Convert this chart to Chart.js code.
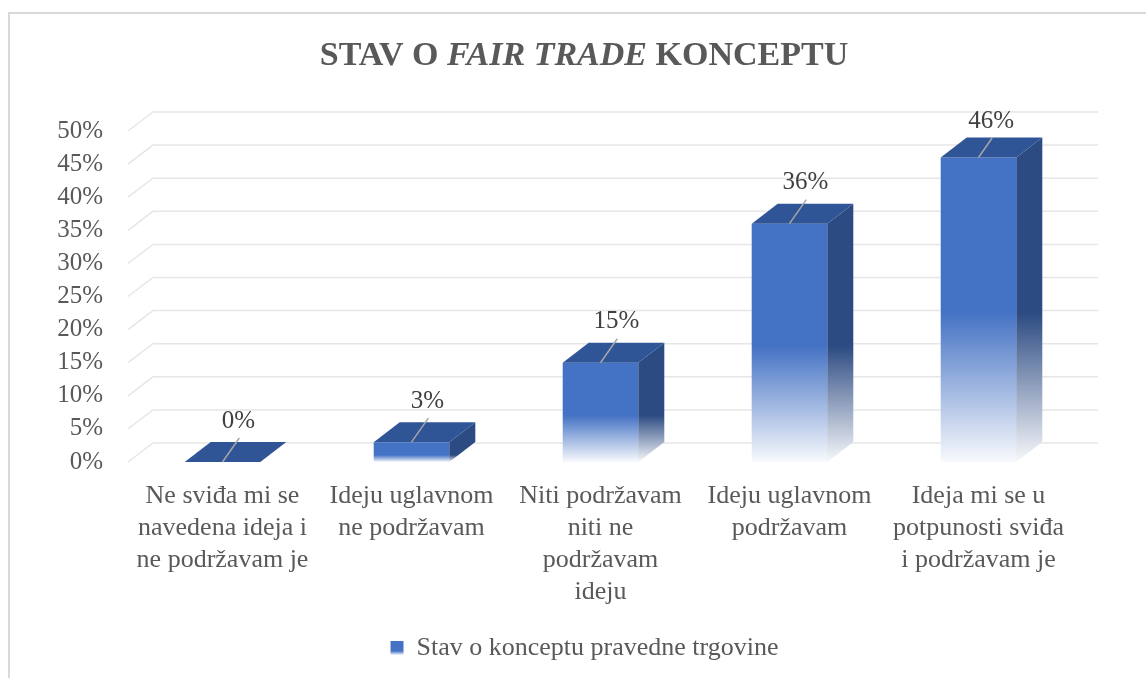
<!DOCTYPE html>
<html>
<head>
<meta charset="utf-8">
<script src="https://cdn.jsdelivr.net/npm/chart.js@4.4.0/dist/chart.umd.min.js"></script>
<style>
  body { margin: 0; background: #fff; }
  #wrap { width: 1146px; height: 678px; position: relative; }
</style>
</head>
<body>
<div id="wrap"><canvas id="myChart"></canvas></div>
<script>
// data
const categories = [
    ['Ne sviđa mi se', 'navedena ideja i', 'ne podržavam je'],
    ['Ideju uglavnom', 'ne podržavam'],
    ['Niti podržavam', 'niti ne', 'podržavam', 'ideju'],
    ['Ideju uglavnom', 'podržavam'],
    ['Ideja mi se u', 'potpunosti sviđa', 'i podržavam je']
];
const values = [0, 3, 15, 36, 46];
const seriesName = 'Stav o konceptu pravedne trgovine';
const titleParts = [['STAV O ', false], ['FAIR TRADE', true], [' KONCEPTU', false]];

const BLUE = '#4472C4';
const SIDE = '#2C4B82';
const TOP = '#2F5597';
const FONT = '"Liberation Serif", "Times New Roman", serif';
const DX = 26, DY = -20;   // depth of the fake 3d

function fade(ctx, y0, y1, color, rgb) {
    const h = Math.max(y1 - y0, 1);
    const solid = Math.min(0.5 + 3 / h, 0.8);
    const g = ctx.createLinearGradient(0, y0, 0, y1);
    g.addColorStop(0, color);
    g.addColorStop(solid, color);
    g.addColorStop(1, 'rgba(' + rgb + ',0.04)');
    return g;
}

const bar3d = {
    id: 'bar3d',
    afterLayout(chart) {
        // move the legend so it sits where the original one is
        chart.legend.left += 43;
        chart.legend.right += 43;
    },
    beforeDraw(chart) {
        const c = chart.ctx;
        c.save();
        // outer frame
        c.strokeStyle = '#d9d9d9';
        c.lineWidth = 2;
        c.beginPath();
        c.moveTo(9, 690);
        c.lineTo(9, 13);
        c.lineTo(1160, 13);
        c.stroke();
        // title with italic part
        let total = 0;
        const widths = titleParts.map(p => {
            c.font = (p[1] ? 'italic ' : '') + 'bold 34px ' + FONT;
            const w = c.measureText(p[0]).width;
            total += w;
            return w;
        });
        let x = 584 - total / 2;
        c.fillStyle = '#595959';
        c.textBaseline = 'alphabetic';
        titleParts.forEach((p, i) => {
            c.font = (p[1] ? 'italic ' : '') + 'bold 34px ' + FONT;
            c.fillText(p[0], x, 65);
            x += widths[i];
        });
        c.restore();
    },
    beforeDatasetsDraw(chart) {
        const c = chart.ctx;
        const y = chart.scales.y;
        const a = chart.chartArea;
        c.save();
        c.strokeStyle = '#e6e6e6';
        c.lineWidth = 1.5;
        y.ticks.forEach(t => {
            const py = y.getPixelForValue(t.value);
            c.beginPath();
            c.moveTo(a.left, py);
            c.lineTo(a.left + 25, py - 19);
            c.lineTo(a.right + 25, py - 19);
            c.stroke();
        });
        // white under the bars so the grid does not show through the fade
        c.fillStyle = '#fff';
        chart.getDatasetMeta(0).data.forEach(el => {
            const p = el.getProps(['x', 'y', 'base', 'width'], true);
            const l = p.x - p.width / 2, r = p.x + p.width / 2;
            c.beginPath();
            c.moveTo(l, p.base);
            c.lineTo(l, p.y);
            c.lineTo(l + DX, p.y + DY);
            c.lineTo(r + DX, p.y + DY);
            c.lineTo(r + DX, p.base + DY);
            c.lineTo(r, p.base);
            c.closePath();
            c.fill();
        });
        c.restore();
    },
    afterDatasetsDraw(chart) {
        const c = chart.ctx;
        const a = chart.chartArea;
        c.save();
        chart.getDatasetMeta(0).data.forEach((el, i) => {
            const p = el.getProps(['x', 'y', 'base', 'width'], true);
            const l = p.x - p.width / 2, r = p.x + p.width / 2;
            // side face
            if (p.base - p.y > 0.5) {
                c.fillStyle = fade(c, p.y, p.base, SIDE, '44,75,130');
                c.beginPath();
                c.moveTo(r, p.y);
                c.lineTo(r + DX, p.y + DY);
                c.lineTo(r + DX, p.base + DY);
                c.lineTo(r, p.base);
                c.closePath();
                c.fill();
            }
            // top face
            c.fillStyle = TOP;
            c.beginPath();
            c.moveTo(l, p.y);
            c.lineTo(l + DX, p.y + DY);
            c.lineTo(r + DX, p.y + DY);
            c.lineTo(r, p.y);
            c.closePath();
            c.fill();
            // leader line and value
            const ly = Math.max(p.y - 41, a.top - 10);
            const ey = ly + 17;
            const ex = p.x + (p.y - ey) * 0.7;
            c.strokeStyle = '#a6a6a6';
            c.lineWidth = 1.5;
            c.beginPath();
            c.moveTo(p.x, p.y);
            c.lineTo(ex, ey);
            c.stroke();
            c.fillStyle = '#404040';
            c.font = '25px ' + FONT;
            c.textAlign = 'center';
            c.textBaseline = 'middle';
            c.fillText(values[i] + '%', ex - 1, ly);
        });
        c.restore();
    }
};

var ctx = document.getElementById('myChart').getContext('2d');
var chart = new Chart(ctx, {
    type: 'bar',
    data: {
        labels: categories,
        datasets: [{
            label: seriesName,
            data: values,
            backgroundColor: (cx) => {
                const ch = cx.chart;
                if (!ch.chartArea || cx.dataIndex === undefined) return BLUE;
                const y = ch.scales.y;
                const top = y.getPixelForValue(cx.raw);
                const base = y.getPixelForValue(0);
                if (base - top < 1) return BLUE;
                return fade(ch.ctx, top, base, BLUE, '68,114,196');
            },
            borderWidth: 0,
            barPercentage: 0.4,
            categoryPercentage: 1
        }]
    },
    options: {
        responsive: true,
        maintainAspectRatio: false,
        animation: false,
        layout: { padding: { left: 10, right: 73, top: 131, bottom: 7 } },
        scales: {
            x: {
                grid: { display: false, drawTicks: false },
                border: { display: false },
                ticks: {
                    color: '#595959',
                    font: { family: FONT, size: 26, lineHeight: '32px' },
                    padding: 18,
                    maxRotation: 0,
                    autoSkip: false
                },
                afterFit: s => { s.height = 163; }
            },
            y: {
                min: 0,
                max: 50,
                grid: { display: false, drawTicks: false },
                border: { display: false },
                ticks: {
                    stepSize: 5,
                    color: '#595959',
                    font: { family: FONT, size: 25 },
                    padding: 25,
                    callback: v => v + '%'
                },
                afterFit: s => { s.width = 118; }
            }
        },
        plugins: {
            legend: {
                position: 'bottom',
                labels: {
                    color: '#595959',
                    font: { family: FONT, size: 26 },
                    boxWidth: 13,
                    boxHeight: 14,
                    padding: 10,
                    generateLabels: (ch) => {
                        const items = Chart.defaults.plugins.legend.labels.generateLabels(ch);
                        const lg = ch.legend;
                        const top = lg && lg.top ? lg.top + 10 + 6 : 641;
                        items.forEach(it => {
                            it.fillStyle = fade(ch.ctx, top, top + 14, BLUE, '68,114,196');
                            it.lineWidth = 0;
                            it.strokeStyle = 'rgba(0,0,0,0)';
                        });
                        return items;
                    }
                }
            },
            tooltip: { enabled: false }
        }
    },
    plugins: [bar3d]
});
</script>
</body>
</html>
